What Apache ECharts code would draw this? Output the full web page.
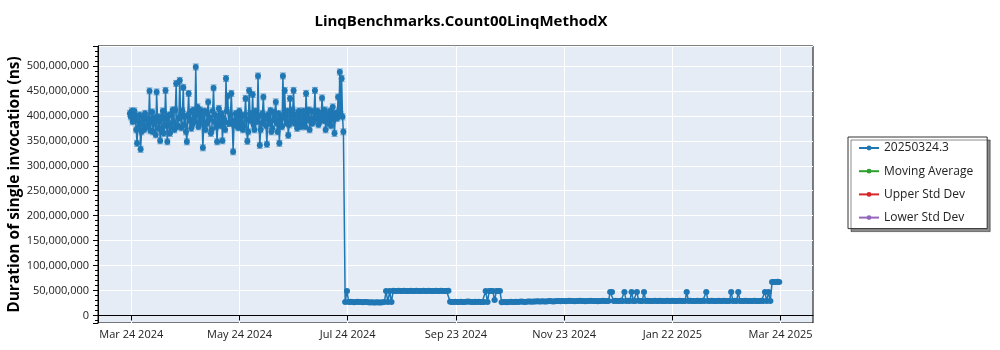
<!DOCTYPE html>
<html>
<head>
<meta charset="utf-8">
<script src="https://cdn.jsdelivr.net/npm/echarts@6/dist/echarts.min.js"></script>
<style>
html,body{margin:0;padding:0;background:#fff;}
#chart{width:1000px;height:350px;}
</style>
</head>
<body>
<div id="chart"></div>
<script>
// ---------- DATA ----------
const chartTitle = 'LinqBenchmarks.Count00LinqMethodX';
const yAxisTitle = 'Duration of single invocation (ns)';
const seriesNames = ['20250324.3', 'Moving Average', 'Upper Std Dev', 'Lower Std Dev'];

// x tick positions (date-times) and their labels
const tickDates = ['2024-03-24T18:00:00Z', '2024-05-24T14:00:00Z', '2024-07-24T10:00:00Z',
  '2024-09-23T06:00:00Z', '2024-11-23T02:00:00Z', '2025-01-22T22:00:00Z', '2025-03-24T18:00:00Z'];
const tickLabels = ['Mar 24 2024', 'May 24 2024', 'Jul 24 2024', 'Sep 23 2024',
  'Nov 23 2024', 'Jan 22 2025', 'Mar 24 2025'];

// measurements in millions of ns
// high period: one run at 00:00 and one at 12:00 of each day from 2024-03-24
const highPeriodStart = '2024-03-24';
const highPeriodMidnightM = [
  405, 410, 392, 400, 345, 378, 333, 385, 372, 395,
  380, 450, 388, 368, 396, 448, 375, 350, 398, 365,
  451, 348, 402, 378, 412, 372, 465, 380, 471, 376,
  457, 398, 348, 445, 408, 382, 395, 498, 418, 386,
  405, 336, 410, 384, 428, 396, 372, 456, 402, 348,
  415, 380, 350, 392, 475, 440, 385, 445, 328, 388,
  398, 376, 392, 402, 380, 435, 349, 451, 390, 443,
  372, 400, 480, 341, 385, 438, 395, 343, 402, 411,
  375, 392, 428, 368, 345, 398, 480, 451, 385, 361,
  435, 392, 451, 402, 375, 410, 378, 396, 385, 445,
  392, 372, 410, 388, 451, 398, 382, 405, 436, 390,
  372, 402, 395, 380, 418, 365, 405, 438, 488, 475,
  368
];
const highPeriodNoonM = [
  398, 388, 410, 372, 390, 402, 368, 395, 405, 378,
  392, 370, 408, 385, 362, 398, 388, 372, 410, 380,
  395, 385, 365, 402, 388, 412, 378, 395, 400, 410,
  382, 368, 402, 390, 375, 412, 388, 402, 378, 412,
  395, 385, 372, 405, 392, 365, 410, 388, 378, 398,
  385, 405, 395, 372, 410, 385, 402, 390, 382, 405,
  378, 410, 385, 372, 400, 392, 368, 405, 395, 382,
  410, 388, 398, 372, 405, 392, 380, 402, 385, 368,
  408, 395, 385, 405, 390, 378, 402, 395, 410, 382,
  400, 412, 385, 395, 405, 385, 398, 410, 378, 402,
  412, 392, 385, 408, 395, 410, 388, 398, 405, 412,
  392, 385, 410, 398, 392, 405, 395, 410, 402, 398
];
// low period: one run per day from 2024-07-23
const lowPeriodStart = '2024-07-23';
const lowPeriodM = [
  27, 49,
  27, 27.5, 27, 26.5, 27, 27.5, 27, 27, 26.5, 27, 27, 26.5, 26, 26.5, 26, 26, 26.5, 26, 26, 26.5, 27,
  49, 27, 49, 27,
  49.5, 49, 49, 49.5, 49, 49, 49.5, 49, 49, 49, 49.5, 49, 49, 49.5, 49, 49,
  49, 49.5, 49, 49, 49.5, 49, 49, 49, 49.5, 49, 49, 49.5, 49, 49, 49, 49.5,
  27.5, 27, 27, 27.5, 27, 27, 27.5, 27, 27, 27.5, 28, 27.5, 27, 27, 27.5, 27, 27.5, 27, 27,
  27, 49, 27, 49, 49, 49, 31, 49, 49, 49,
  26.5, 27, 27, 26.5, 27, 27.5, 27, 27, 27.5, 27,
  27.5, 28, 27.5, 27, 27.5, 28, 28, 27.5, 28, 28,
  28.5, 28, 28, 28.5, 28, 28, 28.5, 29, 28.5, 28,
  28.5, 29, 29, 28.5, 29, 29, 28.5, 29, 29.5, 29,
  29, 28.5, 29, 29, 29.5, 29, 29, 28.5, 29, 29,
  29.5, 29, 29, 29, 28.5, 29, 29, 29.5, 29, 29, 29,
  47, 47,
  29, 29.5, 29, 29, 29.5, 29,
  47,
  29, 29.5, 29,
  47,
  29, 29,
  47,
  29.5, 29, 29,
  47,
  29, 29.5, 29, 29, 29, 29.5, 29, 29, 29.5, 29, 29, 29, 29.5, 29, 29, 29.5, 29, 29, 29, 29.5, 29, 29, 29,
  47,
  29, 29.5, 29, 29, 29, 29.5, 29, 29, 29.5, 29,
  47,
  29, 29, 29.5, 29, 29, 29, 29.5, 29, 29, 29.5, 29, 29, 29,
  47,
  29, 29.5, 29,
  47,
  29, 29, 29, 29.5, 29, 29, 29, 29, 29.5, 29, 29, 29, 29.5, 29,
  47, 29, 47, 29,
  67, 67, 67, 67.5, 67
];
// half-width of the error bars, millions of ns
const highPeriodErrM = 6;
const lowPeriodErrM = 1.5;

// ---------- BUILD ----------
const DAY = 86400000;
const M = 1e6;
function buildPoints(start, offsetHours, vals, err) {
  const t0 = Date.parse(start + 'T00:00:00Z') + offsetHours * 3600000;
  return vals.map((v, i) => ({ t: t0 + i * DAY, v: v * M, e: err * M }));
}
const pts = buildPoints(highPeriodStart, 0, highPeriodMidnightM, highPeriodErrM)
  .concat(buildPoints(highPeriodStart, 12, highPeriodNoonM, highPeriodErrM))
  .concat(buildPoints(lowPeriodStart, 0, lowPeriodM, lowPeriodErrM))
  .sort((a, b) => a.t - b.t);
const lineData = pts.map(p => [p.t, p.v]);
const errData = pts.map(p => [p.t, p.v - p.e, p.v + p.e]);
const tickValues = tickDates.map(d => Date.parse(d));

const FONT = '"Segoe UI", "Open Sans", "Noto Sans", sans-serif';
const BLUE = '#1f77b4';

const chart = echarts.init(document.getElementById('chart'), null, { renderer: 'canvas' });
chart.setOption({
  animation: false,
  backgroundColor: '#ffffff',
  textStyle: { fontFamily: FONT },
  title: {
    text: chartTitle,
    left: 456, top: 9, textAlign: 'center',
    textStyle: { fontFamily: FONT, fontSize: 15, fontWeight: 'bold', color: '#000' }
  },
  legend: {
    data: seriesNames,
    orient: 'vertical',
    left: 848, top: 137,
    padding: [5, 14, 5, 10],
    itemWidth: 20, itemHeight: 6, itemGap: 11.2,
    backgroundColor: '#ffffff',
    borderColor: '#333333', borderWidth: 1, borderRadius: 0,
    shadowColor: 'rgba(0,0,0,0.45)', shadowBlur: 0, shadowOffsetX: 3, shadowOffsetY: 3,
    textStyle: { fontFamily: FONT, fontSize: 12, color: '#222' }
  },
  grid: {
    left: 98, right: 187, top: 46, bottom: 27,
    outerBoundsMode: 'none', containLabel: false,
    show: true, backgroundColor: '#e5ecf6', borderColor: '#000', borderWidth: 1
  },
  xAxis: {
    type: 'value',
    min: Date.parse('2024-03-06T01:00:00Z'),
    max: Date.parse('2025-04-12T00:00:00Z'),
    axisLine: { show: true, lineStyle: { color: '#000', width: 1 } },
    axisTick: { show: true, length: 5, customValues: tickValues, lineStyle: { color: '#000' } },
    axisLabel: {
      customValues: tickValues, color: '#222', fontSize: 11, fontFamily: FONT, margin: 6,
      formatter: v => { const i = tickValues.indexOf(v); return i >= 0 ? tickLabels[i] : ''; }
    },
    splitLine: { show: true, lineStyle: { color: '#ffffff', width: 1 } }
  },
  yAxis: {
    type: 'value',
    min: -15e6, max: 540e6,
    minInterval: 50e6, maxInterval: 50e6, splitNumber: 11,
    name: yAxisTitle, nameLocation: 'middle', nameGap: 75, nameMoveOverlap: false,
    nameTextStyle: { fontFamily: FONT, fontSize: 15.5, fontWeight: 'bold', color: '#000' },
    axisLine: { show: true, lineStyle: { color: '#000', width: 1 } },
    axisTick: { show: true, length: 5, lineStyle: { color: '#000' } },
    minorTick: { show: true, splitNumber: 5, length: 3, lineStyle: { color: '#000' } },
    axisLabel: {
      color: '#222', fontSize: 11, fontFamily: FONT, margin: 9,
      showMinLabel: false, showMaxLabel: false,
      formatter: v => (v >= 0 && v % 50e6 === 0) ? v.toLocaleString('en-US') : ''
    },
    splitLine: { show: true, lineStyle: { color: '#ffffff', width: 1 } }
  },
  series: [
    {
      name: 'errorbars',
      type: 'custom',
      clip: true,
      z: 1,
      encode: { x: 0, y: [1, 2] },
      data: errData,
      renderItem: (params, api) => {
        const x = api.value(0);
        const lo = api.coord([x, api.value(1)]);
        const hi = api.coord([x, api.value(2)]);
        const hw = 3;
        const style = { stroke: BLUE, lineWidth: 1, opacity: 0.6 };
        return {
          type: 'group',
          children: [
            { type: 'line', shape: { x1: lo[0], y1: lo[1], x2: hi[0], y2: hi[1] }, style },
            { type: 'line', shape: { x1: hi[0] - hw, y1: hi[1], x2: hi[0] + hw, y2: hi[1] }, style },
            { type: 'line', shape: { x1: lo[0] - hw, y1: lo[1], x2: lo[0] + hw, y2: lo[1] }, style }
          ]
        };
      }
    },
    {
      name: seriesNames[0], type: 'line', z: 3,
      data: lineData,
      showAllSymbol: true, symbol: 'circle', symbolSize: 6,
      itemStyle: { color: BLUE },
      lineStyle: { color: BLUE, width: 1.5 }
    },
    { name: seriesNames[1], type: 'line', data: [], symbol: 'circle', symbolSize: 6, itemStyle: { color: '#2ca02c' }, lineStyle: { color: '#2ca02c', width: 1.5 } },
    { name: seriesNames[2], type: 'line', data: [], symbol: 'circle', symbolSize: 6, itemStyle: { color: '#d62728' }, lineStyle: { color: '#d62728', width: 1.5 } },
    { name: seriesNames[3], type: 'line', data: [], symbol: 'circle', symbolSize: 6, itemStyle: { color: '#9467bd' }, lineStyle: { color: '#9467bd', width: 1.5 } }
  ]
});
</script>
</body>
</html>
